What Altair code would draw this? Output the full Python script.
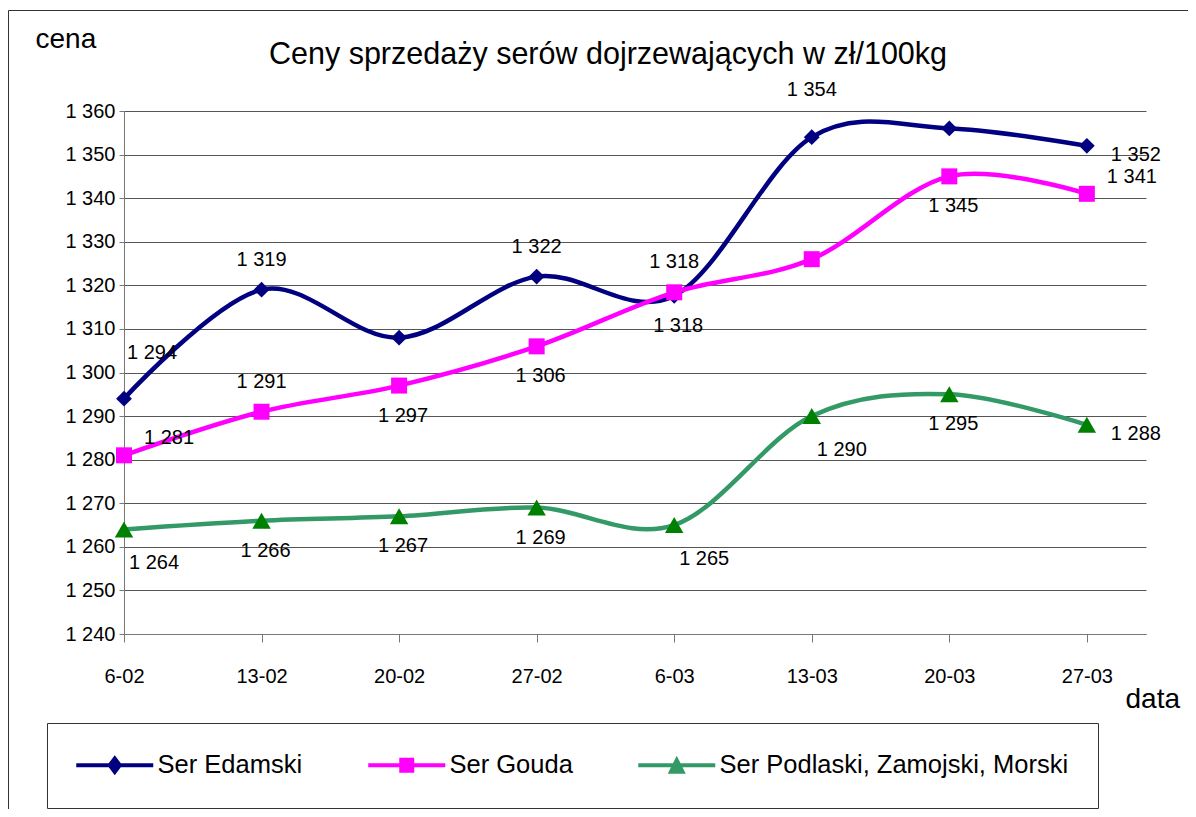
import json
import altair as alt
import pandas as pd

# ---------------- data ----------------
DATES = ["6-02", "13-02", "20-02", "27-02", "6-03", "13-03", "20-03", "27-03"]
SERIES = ["Ser Edamski", "Ser Gouda", "Ser Podlaski, Zamojski, Morski"]
EDAMSKI = [1294, 1319, 1308, 1322, 1317.6, 1354, 1356, 1352]
GOUDA = [1281, 1291, 1297, 1306, 1318.4, 1326, 1345, 1341]
PODLASKI = [1264, 1266, 1267, 1269, 1265, 1290, 1295, 1288]
# where each data label sits ("" = no label shown in the original)
EDAMSKI_LBL = ["NE", "N", "", "N", "S", "NN", "", "E"]
GOUDA_LBL = ["EN", "N", "S", "S", "N", "", "S", "EN"]
PODLASKI_LBL = ["SE", "S", "S", "S", "SE", "SE", "S", "E"]
Y_TICKS = list(range(1240, 1361, 10))
TITLE = "Ceny sprzedaży serów dojrzewających w zł/100kg"

# ---------------- styles ----------------
FONT = "Liberation Sans"
LINE_COLORS = ["#000080", "#FF00FF", "#339966"]
MARK_COLORS = ["#000080", "#FF00FF", "#008000"]
MARK_SHAPES = ["diamond", "square", "triangle-up"]
MARK_SIZES = [250, 256, 340]
LEGEND_PATHS = [
    "M-3.85,-0.2H3.85V0.2H-3.85Z M0,-1L0.75,0L0,1L-0.75,0Z",
    "M-3.85,-0.2H3.85V0.2H-3.85Z M-0.75,-0.75H0.75V0.75H-0.75Z",
    "M-3.85,-0.2H3.85V0.2H-3.85Z M0,-0.95L0.9,0.85L-0.9,0.85Z",
]
PLACE = {  # align, dx, dy
    "N": ("center", 0, -30),
    "NN": ("center", 0, -47),
    "NE": ("center", 28, -46),
    "S": ("center", 4, 30),
    "SE": ("center", 30, 34),
    "E": ("left", 24, 9),
    "EN": ("left", 20, -17),
}
AXC = "#777777"
GRID = "#555555"

rows = []
for name, vals, lbls in zip(SERIES, [EDAMSKI, GOUDA, PODLASKI],
                            [EDAMSKI_LBL, GOUDA_LBL, PODLASKI_LBL]):
    for i, (v, p) in enumerate(zip(vals, lbls)):
        rows.append({"date": DATES[i], "idx": i, "series": name, "value": v, "pos": p})
df = pd.DataFrame(rows)

x_expr = json.dumps(DATES) + "[datum.value]"

X = alt.X(
    "idx:Q",
    scale=alt.Scale(domain=[0, 7.43], nice=False, zero=False),
    axis=alt.Axis(
        values=list(range(len(DATES))), labelExpr=x_expr, labelFlush=False,
        labelOverlap=False, grid=False, tickSize=8, labelPadding=24,
        labelFontSize=20, labelColor="black", labelFont=FONT,
        domainColor=AXC, tickColor=AXC,
        title="data", titleX=1001, titleY=73, titleAlign="left",
        titleBaseline="alphabetic", titleFontSize=28, titleFontWeight="normal",
        titleColor="black", titleFont=FONT,
    ),
)
Y = alt.Y(
    "value:Q",
    scale=alt.Scale(domain=[1240, 1360], nice=False, zero=False),
    axis=alt.Axis(
        values=Y_TICKS, labelExpr="replace(format(datum.value, ','), ',', ' ')",
        labelOverlap=False, tickSize=5, labelPadding=4, labelFontSize=20,
        labelColor="black", labelFont=FONT, domainColor=AXC, tickColor=AXC,
        gridColor=GRID, gridWidth=1,
        title="cena", titleAngle=0, titleX=-89, titleY=-64, titleAlign="left",
        titleBaseline="alphabetic", titleFontSize=28, titleFontWeight="normal",
        titleColor="black", titleFont=FONT,
    ),
)

layers = []

frame = alt.Chart(pd.DataFrame({"k": [0]})).mark_rect(
    fillOpacity=0, stroke="#333333", strokeWidth=1
).encode(x=alt.value(-115.5), x2=alt.value(1100), y=alt.value(-100.5), y2=alt.value(720))
layers.append(frame)

title = alt.Chart(pd.DataFrame({"t": [TITLE]})).mark_text(
    font=FONT, fontSize=30.5, align="center", baseline="alphabetic", color="black"
).encode(text="t:N", x=alt.value(484), y=alt.value(-47))
layers.append(title)

for name, lc, mc, sh, sz in zip(SERIES, LINE_COLORS, MARK_COLORS, MARK_SHAPES, MARK_SIZES):
    base = alt.Chart(df).transform_filter(alt.datum.series == name)
    layers.append(base.mark_line(interpolate="cardinal", strokeWidth=4.5, color=lc).encode(x=X, y=Y))
    layers.append(base.mark_point(shape=sh, filled=True, size=sz, color=mc, opacity=1).encode(x=X, y=Y))

for key, (al, dx, dy) in PLACE.items():
    layers.append(
        alt.Chart(df)
        .transform_filter(alt.datum.pos == key)
        .transform_calculate(lab="replace(format(datum.value, ',.0f'), ',', ' ')")
        .mark_text(align=al, baseline="middle", dx=dx, dy=dy, fontSize=20, font=FONT, color="black")
        .encode(x=X, y=Y, text="lab:N")
    )

LEG = alt.Legend(
    title=None, orient="none", legendX=-77, legendY=612, direction="horizontal",
    columns=3, symbolSize=400, symbolStrokeWidth=0, symbolOffset=26, labelOffset=30,
    labelFont=FONT, labelFontSize=25.5, labelColor="black", labelLimit=600,
    columnPadding=65, padding=29, strokeColor="#333333", symbolOpacity=1,
)
legend_layer = (
    alt.Chart(df)
    .transform_filter("false")
    .mark_point(filled=True, opacity=1)
    .encode(
        x=X, y=Y,
        color=alt.Color("series:N", scale=alt.Scale(domain=SERIES, range=LINE_COLORS), legend=LEG),
        shape=alt.Shape("series:N", scale=alt.Scale(domain=SERIES, range=LEGEND_PATHS), legend=LEG),
    )
)
layers.append(legend_layer)

chart = (
    alt.layer(*layers)
    .properties(
        width=1022, height=523,
        padding={"left": 116, "top": 103, "right": 42, "bottom": 175},
        autosize=alt.AutoSizeParams(type="none"),
    )
    .configure(font=FONT)
    .configure_view(stroke=None)
)

chart.save("out.html", embed_options={"renderer": "svg", "actions": False})
